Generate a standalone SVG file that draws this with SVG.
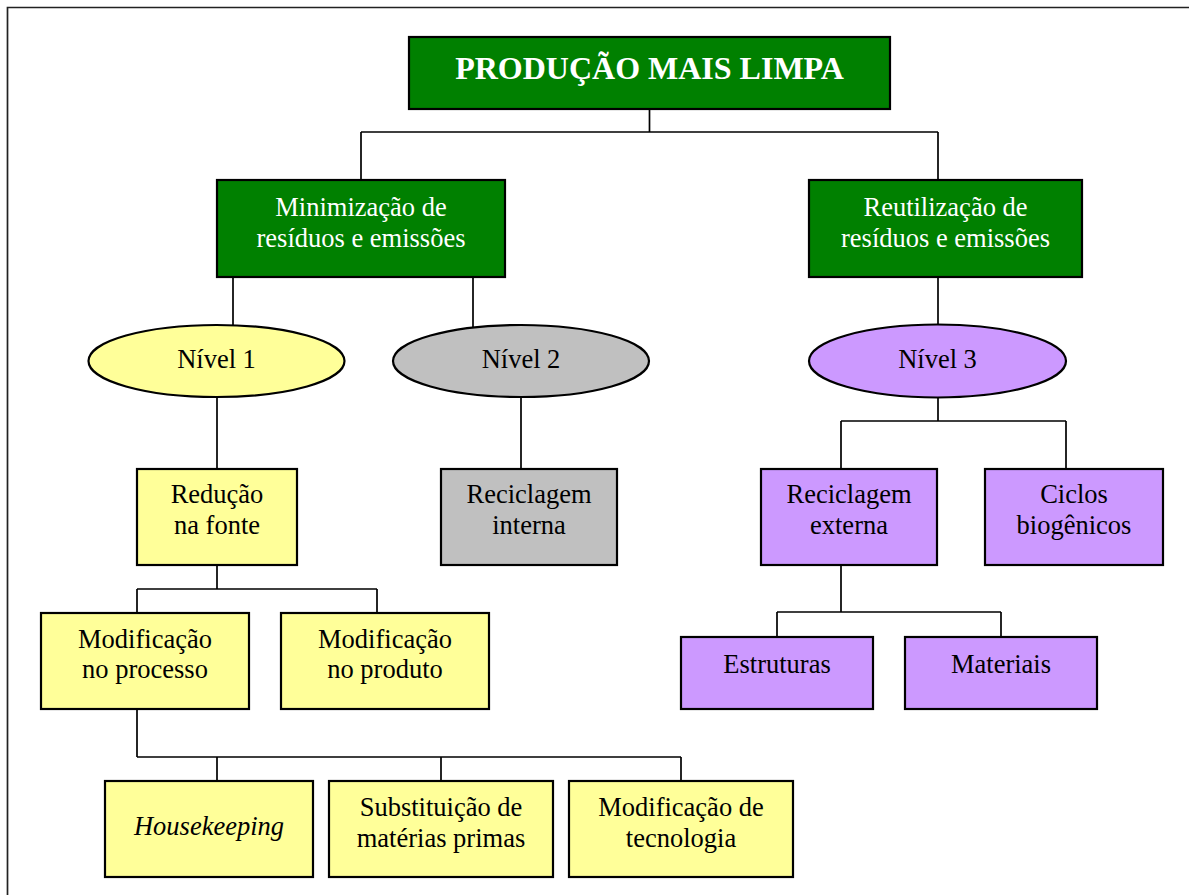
<svg xmlns="http://www.w3.org/2000/svg" width="1189" height="895" viewBox="0 0 1189 895">
<style>
.box{stroke:#000;stroke-width:2.2}
.g{fill:#008000}
.y{fill:#FFFF99}
.gr{fill:#C0C0C0}
.p{fill:#CC99FF}
text{font-family:"Liberation Serif","Times New Roman",serif;font-size:26.5px;text-anchor:middle;fill:#000}
.w{fill:#fff}
.title{font-size:32px;font-weight:bold}
.it{font-style:italic}
.con{fill:none;stroke:#000;stroke-width:1.7}
</style>
<rect width="1189" height="895" fill="#fff"/>
<path d="M7.5,895 V7.5 H1189" fill="none" stroke="#222" stroke-width="1.7"/>
<g id="connectors" class="con">
<path d="M649.5,109 V132 M361,132 H938 M361,132 V180 M938,132 V180"/>
<path d="M233,277 V326 M473,277 V328"/>
<path d="M938,277 V325"/>
<path d="M217,397 V469 M521,397 V469"/>
<path d="M938,397 V421 M841,421 H1066 M841,421 V469 M1066,421 V469"/>
<path d="M217,565 V589 M137,589 H377 M137,589 V613 M377,589 V613"/>
<path d="M137,709 V757 M137,757 H681 M217,757 V781 M441,757 V781 M681,757 V781"/>
<path d="M841,565 V612 M777,612 H1001 M777,612 V637 M1001,612 V637"/>
</g>
<g id="n-producao"><rect class="box g" x="409" y="37" width="481" height="72"/><text class="w title" x="649.5" y="79">PRODUÇÃO MAIS LIMPA</text></g>
<g id="n-minimizacao"><rect class="box g" x="217" y="180" width="288" height="97"/><text class="w" x="361" y="216">Minimização de</text><text class="w" x="361" y="247">resíduos e emissões</text></g>
<g id="n-reutilizacao"><rect class="box g" x="809" y="180" width="273" height="97"/><text class="w" x="945.5" y="216">Reutilização de</text><text class="w" x="945.5" y="247">resíduos e emissões</text></g>
<g id="n-nivel1"><ellipse class="box y" cx="216.5" cy="361" rx="128" ry="36"/><text x="216.5" y="368">Nível 1</text></g>
<g id="n-nivel2"><ellipse class="box gr" cx="521" cy="361" rx="128" ry="36"/><text x="521" y="368">Nível 2</text></g>
<g id="n-nivel3"><ellipse class="box p" cx="937.5" cy="361" rx="128.5" ry="36.5"/><text x="937.5" y="368">Nível 3</text></g>
<g id="n-reducao"><rect class="box y" x="137" y="469" width="160" height="96"/><text x="217" y="503">Redução</text><text x="217" y="534">na fonte</text></g>
<g id="n-rec-interna"><rect class="box gr" x="441" y="469" width="176" height="96"/><text x="529" y="503">Reciclagem</text><text x="529" y="534">interna</text></g>
<g id="n-rec-externa"><rect class="box p" x="761" y="469" width="176" height="96"/><text x="849" y="503">Reciclagem</text><text x="849" y="534">externa</text></g>
<g id="n-ciclos"><rect class="box p" x="985" y="469" width="178" height="96"/><text x="1074" y="503">Ciclos</text><text x="1074" y="534">biogênicos</text></g>
<g id="n-mod-processo"><rect class="box y" x="41" y="613" width="208" height="96"/><text x="145" y="647.5">Modificação</text><text x="145" y="678">no processo</text></g>
<g id="n-mod-produto"><rect class="box y" x="281" y="613" width="208" height="96"/><text x="385" y="647.5">Modificação</text><text x="385" y="678">no produto</text></g>
<g id="n-estruturas"><rect class="box p" x="681" y="637" width="192" height="72"/><text x="777" y="673">Estruturas</text></g>
<g id="n-materiais"><rect class="box p" x="905" y="637" width="192" height="72"/><text x="1001" y="673">Materiais</text></g>
<g id="n-housekeeping"><rect class="box y" x="105" y="781" width="208" height="96"/><text class="it" x="209" y="835">Housekeeping</text></g>
<g id="n-substituicao"><rect class="box y" x="329" y="781" width="224" height="96"/><text x="441" y="816">Substituição de</text><text x="441" y="847">matérias primas</text></g>
<g id="n-tecnologia"><rect class="box y" x="569" y="781" width="224" height="96"/><text x="681" y="816">Modificação de</text><text x="681" y="847">tecnologia</text></g>
</svg>
